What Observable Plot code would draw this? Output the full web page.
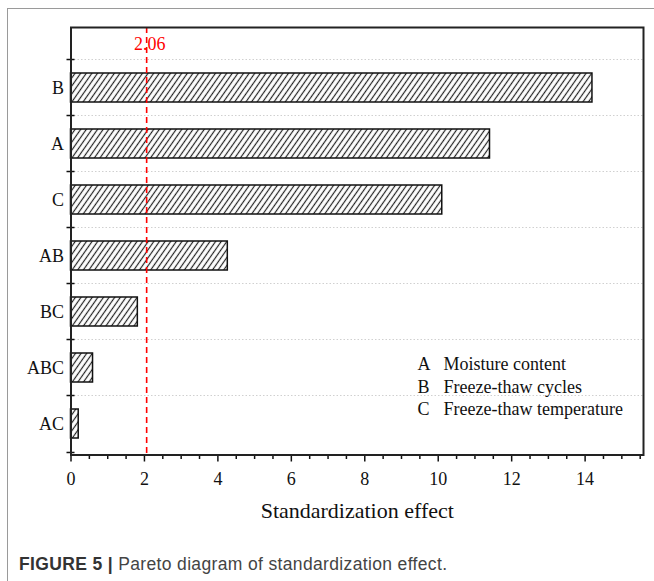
<!DOCTYPE html>
<html>
<head>
<meta charset="utf-8">
<script src="https://cdn.jsdelivr.net/npm/d3@7"></script>
<script src="https://cdn.jsdelivr.net/npm/@observablehq/plot@0.6"></script>
<style>
  html, body { margin: 0; padding: 0; background: #fff; }
  #page { position: relative; width: 654px; height: 581px; overflow: hidden; background: #fff; }
  #border { position: absolute; left: 7px; top: 8px; width: 700px; height: 600px;
            border-left: 1.5px solid #9a9a9a; border-top: 1.5px solid #9a9a9a; z-index: 2; pointer-events: none; }
  #chart { position: absolute; left: 0; top: 0; z-index: 1; }
  #caption { position: absolute; left: 19px; top: 554px; font-family: "Liberation Sans", Arial, sans-serif;
             font-size: 17.5px; letter-spacing: 0.35px; color: #444; z-index: 3; white-space: nowrap; }
  #caption b { color: #333; }
</style>
</head>
<body>
<div id="page">
  <div id="border"></div>
  <div id="chart"></div>
  <div id="caption"><b>FIGURE 5 |</b> Pareto diagram of standardization effect.</div>
</div>
<script>
// ---- data ----
const terms = ["B", "A", "C", "AB", "BC", "ABC", "AC"];
const effects = [14.2, 11.41, 10.11, 4.27, 1.82, 0.60, 0.21];
const critical = 2.06;
const xTicks = [0, 2, 4, 6, 8, 10, 12, 14];
const xMinorTicks = [0.5, 1, 1.5, 2.5, 3, 3.5, 4.5, 5, 5.5, 6.5, 7, 7.5, 8.5, 9, 9.5, 10.5, 11, 11.5, 12.5, 13, 13.5, 14.5, 15, 15.5];
const legendKeys = ["A", "B", "C"];
const legendNames = ["Moisture content", "Freeze-thaw cycles", "Freeze-thaw temperature"];
const xLabel = "Standardization effect";

const rows = terms.map((t, i) => ({term: t, effect: effects[i]}));

// ---- layout ----
const W = 654, H = 540;
const mTop = 27, mBottom = 85.5, mLeft = 70.5, mRight = 11;
const insetTop = 28.7;
const step = (H - mBottom - mTop - insetTop) / terms.length;
const serif = "'Liberation Serif', 'Times New Roman', serif";
const fs = 18;

const svg = Plot.plot({
  width: W,
  height: H,
  marginTop: mTop,
  marginBottom: mBottom,
  marginLeft: mLeft,
  marginRight: mRight,
  style: {fontFamily: serif, fontSize: fs + "px", color: "#111", background: "transparent", overflow: "visible"},
  x: {domain: [0, 15.59]},
  y: {type: "band", domain: terms, paddingInner: 0.49, paddingOuter: 0.245, insetTop: insetTop},
  marks: [
    // dotted gridlines at category boundaries
    Plot.ruleY(terms, {y: d => d, dy: -step / 2, stroke: "#d0d0d0", strokeWidth: 1, strokeDasharray: "1.5,2"}),
    // bars
    Plot.barX(rows, {x: "effect", y: "term", fill: "url(#hatch)", stroke: "#111", strokeWidth: 1.5}),
    // critical value line
    Plot.ruleX([critical], {stroke: "#ff0000", strokeWidth: 1.6, strokeDasharray: "6,4"}),
    Plot.text([critical], {x: d => d, text: d => d.toFixed(2), frameAnchor: "top", lineAnchor: "middle", dy: 17, dx: 3,
                           fill: "#ff0000", fontSize: fs}),
    // y axis: labels and boundary ticks
    Plot.axisY({tickSize: 0, tickPadding: 7, fontSize: fs, label: null}),
    Plot.ruleY(terms, {y: d => d, x1: 0, x2: 0, dy: -step / 2, insetLeft: -4, insetRight: -4, stroke: "#111", strokeWidth: 1.5}),
    Plot.ruleY([terms[terms.length - 1]], {y: d => d, x1: 0, x2: 0, dy: step / 2, insetLeft: -4, insetRight: -4, stroke: "#111", strokeWidth: 1.5}),
    // x axis
    Plot.axisX(xTicks, {tickSize: 7, tickPadding: 10, fontSize: fs, label: null, strokeWidth: 1.5, tickFormat: d => String(d)}),
    Plot.axisX(xMinorTicks, {tickSize: 4.5, text: null, label: null, strokeWidth: 1.5}),
    Plot.text([xLabel], {frameAnchor: "bottom", dy: 56, lineAnchor: "middle", fontSize: 22, fill: "#111"}),
    // legend
    Plot.text([legendKeys.join("\n")], {frameAnchor: "top-left", textAnchor: "start", lineAnchor: "top",
                                        dx: 417 - mLeft, dy: 327, lineHeight: 1.25, fontSize: fs, fill: "#111"}),
    Plot.text([legendNames.join("\n")], {frameAnchor: "top-left", textAnchor: "start", lineAnchor: "top",
                                         dx: 443 - mLeft, dy: 327, lineHeight: 1.25, fontSize: fs, fill: "#111"}),
    // frame
    Plot.frame({stroke: "#222", strokeWidth: 2})
  ]
});

// hatch pattern definition
const ns = "http://www.w3.org/2000/svg";
const defs = document.createElementNS(ns, "defs");
const pat = document.createElementNS(ns, "pattern");
pat.setAttribute("id", "hatch");
pat.setAttribute("patternUnits", "userSpaceOnUse");
pat.setAttribute("width", "4.6");
pat.setAttribute("height", "10");
pat.setAttribute("patternTransform", "rotate(35)");
const bg = document.createElementNS(ns, "rect");
bg.setAttribute("width", "4.6"); bg.setAttribute("height", "10"); bg.setAttribute("fill", "#fff");
const ln = document.createElementNS(ns, "line");
ln.setAttribute("x1", "2.3"); ln.setAttribute("x2", "2.3");
ln.setAttribute("y1", "0"); ln.setAttribute("y2", "10");
ln.setAttribute("stroke", "#222"); ln.setAttribute("stroke-width", "1.2");
pat.appendChild(bg); pat.appendChild(ln); defs.appendChild(pat);
svg.insertBefore(defs, svg.firstChild);

document.getElementById("chart").appendChild(svg);
</script>
</body>
</html>
